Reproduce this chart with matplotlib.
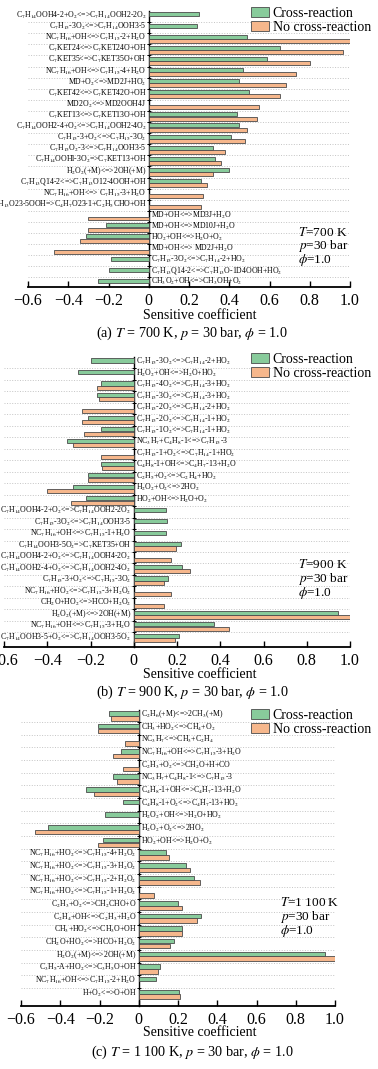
import re
import numpy as np
import matplotlib
matplotlib.use("Agg")
import matplotlib.pyplot as plt
from matplotlib.ticker import FuncFormatter

plt.rcParams['font.family'] = ['Liberation Serif', 'DejaVu Serif']
plt.rcParams['mathtext.fontset'] = 'stix'

nan = np.nan

# --- (a) T = 700 K ---
a_labels = [
    "C_7H_14OOH4-2+O_2<=>C_7H_14OOH2-2O_2", "C_7H_15-3O_2<=>C_7H_14OOH3-5",
    "NC_7H_16+OH<=>C_7H_15-2+H_2O", "C_7KET24<=>C_7KET24O+OH", "C_7KET35<=>C_7KET35O+OH",
    "NC_7H_16+OH<=>C_7H_15-4+H_2O", "MD+O_2<=>MD2J+HO_2", "C_7KET42<=>C_7KET42O+OH",
    "MD2O_2<=>MD2OOH4J", "C_7KET13<=>C_7KET13O+OH", "C_7H_14OOH2-4+O_2<=>C_7H_14OOH2-4O_2",
    "C_7H_15-3+O_2<=>C_7H_15-3O_2", "C_7H_15O_2-3<=>C_7H_14OOH3-5",
    "C_7H_14OOHl-3O_2=>C_7KET13+OH", "H_2O_2(+M)<=>2OH(+M)",
    "C_7H_13Q14-2<=>C_7H_13O12-4OOH+OH", "NC_7H_16+OH<=> C_7H_15-3+H_2O",
    "C_7H_13O23-5OOH=>C_4H_7O23-1+C_2H_5CHO+OH", "MD+OH<=>MD3J+H_2O",
    "MD+OH<=>MD10J+H_2O", "HO_2+OH<=>H_2O+O_2", "MD+OH<=> MD2J+H_2O",
    "C_7H_15-3O_2<=>C_7H_14-2+HO_2", "C_7H_13Q14-2<=>C_7H_13O-1D4OOH+HO_2",
    "CH_3O_2+OH<=>CH_3OH+O_2",
]
a_cross = [0.25, 0.24, 0.49, 0.65, 0.59, 0.47, 0.45, 0.50, nan, 0.44, 0.45, 0.41, 0.32,
           0.33, 0.40, 0.26, nan, nan, nan, -0.21, -0.31, nan, -0.19, -0.20, -0.25]
a_nocross = [nan, nan, 1.00, 0.965, 0.80, 0.73, 0.68, 0.65, 0.55, 0.54, 0.49, 0.48, 0.38,
             0.36, 0.32, 0.29, 0.27, 0.26, -0.30, -0.30, -0.34, -0.47, nan, nan, nan]

# --- (b) T = 900 K ---
b_labels = [
    "C_7H_15-3O_2<=>C_7H_14-2+HO_2", "H_2O_2+OH<=>H_2O+HO_2", "C_7H_15-4O_2<=>C_7H_14-3+HO_2",
    "C_7H_15-3O_2<=>C_7H_14-3+HO_2", "C_7H_15-2O_2<=>C_7H_14-2+HO_2",
    "C_7H_15-2O_2<=>C_7H_14-1+HO_2", "C_7H_15-1O_2<=>C_7H_14-1+HO_2",
    "NC_3H_7+C_4H_8-1<=>C_7H_15-3", "C_7H_15-1+O_2<=>C_7H_14-1+HO_2",
    "C_4H_8-1+OH<=>C_4H_7-13+H_2O", "C_2H_5+O_2<=>C_2H_4+HO_2", "H_2O_2+O_2<=>2HO_2",
    "HO_2+OH<=>H_2O+O_2", "C_7H_14OOH4-2+O_2<=>C_7H_14OOH2-2O_2",
    "C_7H_15-3O_2<=>C_7H_14OOH3-5", "NC_7H_16+OH<=>C_7H_15-1+H_2O",
    "C_7H_14OOH3-5O_2=>C_7KET35+OH", "C_7H_14OOH4-2+O_2<=>C_7H_14OOH4-2O_2",
    "C_7H_14OOH2-4+O_2<=>C_7H_14OOH2-4O_2", "C_7H_15-3+O_2<=>C_7H_15-3O_2",
    "NC_7H_16+HO_2<=>C_7H_15-3+H_2O_2", "CH_2O+HO_2<=>HCO+H_2O_2", "H_2O_2(+M)<=>2OH(+M)",
    "NC_7H_16+OH<=>C_7H_15-3+H_2O", "C_7H_14OOH3-5+O_2<=>C_7H_14OOH3-5O_2",
]
b_cross = [-0.20, -0.26, -0.15, -0.17, nan, -0.21, -0.15, -0.31, nan, -0.15, -0.21, -0.28,
           -0.22, 0.15, 0.155, 0.15, 0.22, nan, 0.225, 0.16, nan, nan, 0.945, 0.37, 0.21]
b_nocross = [nan, nan, -0.17, -0.16, -0.24, -0.24, -0.23, -0.28, -0.15, -0.145, -0.21, -0.40,
             -0.29, nan, nan, nan, 0.195, 0.17, 0.26, 0.14, 0.17, 0.14, 1.00, 0.44, 0.19]

# --- (c) T = 1 100 K ---
c_labels = [
    "C_2H_6(+M)<=>2CH_3(+M)", "CH_3+HO_2<=>CH_4+O_2", "NC_3H_7<=>CH_3+C_2H_4",
    "NC_7H_16+OH<=>C_7H_15-3+H_2O", "C_2H_3+O_2<=>CH_2O+H+CO", "NC_3H_7+C_4H_8-1<=>C_7H_15-3",
    "C_4H_8-1+OH<=>C_4H_7-13+H_2O", "C_4H_8-1+O_2<=>C_4H_7-13+HO_2", "H_2O_2+OH<=>H_2O+HO_2",
    "H_2O_2+O_2<=>2HO_2", "HO_2+OH<=>H_2O+O_2", "NC_7H_16+HO_2<=>C_7H_15-4+H_2O_2",
    "NC_7H_16+HO_2<=>C_7H_15-3+H_2O_2", "NC_7H_16+HO_2<=>C_7H_15-2+H_2O_2",
    "NC_7H_16+HO_2<=>C_7H_15-1+H_2O_2", "C_2H_3+O_2<=>CH_2CHO+O", "C_2H_4+OH<=>C_2H_3+H_2O",
    "CH_3+HO_2<=>CH_3O+OH", "CH_2O+HO_2<=>HCO+H_2O_2", "H_2O_2(+M)<=>2OH(+M)",
    "C_3H_5-A+HO_2<=>C_3H_5O+OH", "NC_7H_16+OH<=>C_7H_15-2+H_2O", "H+O_2<=>O+OH",
]
c_cross = [-0.15, -0.21, nan, -0.09, nan, -0.13, -0.27, -0.08, -0.17, -0.46, -0.18, 0.14,
           0.24, 0.28, nan, 0.20, 0.315, 0.22, 0.18, 0.95, 0.107, 0.087, 0.205]
c_nocross = [-0.14, -0.21, -0.07, -0.13, -0.08, -0.11, -0.23, nan, nan, -0.53, -0.21, 0.155,
             0.26, 0.31, 0.08, 0.22, 0.295, 0.22, 0.16, 1.00, 0.10, nan, 0.21]

GREEN = '#88cb9b'
ORANGE = '#f6b78c'
EDGE = '#4a4a4a'
W, H = 378, 1069


def tex(s):
    return re.sub(r"_(\d+)", r"$_{\1}$", s)


def fx(px):
    return px / W


def fy(py):
    return 1 - py / H


def fmt(v, pos):
    if abs(v) < 1e-9:
        return '0'
    return f'{v:.1f}'.replace('-', '\u2212')


fig = plt.figure(figsize=(W / 100, H / 100), dpi=100)

panels = [
    # data, axes rect (px: left, top, right, bottom), ylim bottom, caption, T, legend y, note x/y, xlabel y, caption y
    ((a_labels, a_cross, a_nocross), (28, 11, 350, 287), 24.36,
     r"(a) $T$ = 700 K, $p$ = 30 bar, $\phi$ = 1.0", "700 K", 7, 298, 232, 316, 333),
    ((b_labels, b_cross, b_nocross), (4, 357, 350, 647), 24.78,
     r"(b) $T$ = 900 K, $p$ = 30 bar, $\phi$ = 1.0", "900 K", 353, 298, 565, 674, 692),
    ((c_labels, c_cross, c_nocross), (21, 709.5, 335, 1006), 22.93,
     r"(c) $T$ = 1 100 K, $p$ = 30 bar, $\phi$ = 1.0", "1 100 K", 709, 280, 903, 1032, 1052),
]

for (labels, cross, nocross), (l, t, r, b), ybot, caption, temp, leg_y, nx, ny, xl_y, cap_y in panels:
    ax = fig.add_axes([fx(l), fy(b), fx(r - l), (b - t) / H])
    n = len(labels)
    y = np.arange(n)
    cross = np.array(cross)
    nocross = np.array(nocross)
    h = 0.36
    m1 = ~np.isnan(cross)
    m2 = ~np.isnan(nocross)
    ax.barh(y[m1] - 0.19, cross[m1], height=h, color=GREEN, edgecolor=EDGE,
            linewidth=0.6, label='Cross-reaction', zorder=3)
    ax.barh(y[m2] + 0.19, nocross[m2], height=h, color=ORANGE, edgecolor=EDGE,
            linewidth=0.6, label='No cross-reaction', zorder=3)
    ax.hlines(np.arange(n - 1) + 0.5, -0.6, 1.0, colors='#c4c4c4', linestyles=':',
              linewidth=0.7, zorder=1)
    ax.set_xlim(-0.6, 1.0)
    ax.set_ylim(ybot, -0.5)

    for i, lab in enumerate(labels):
        vals = np.array([cross[i], nocross[i]])
        if np.nanmax(vals) > 0:
            ax.text(-0.012, i - 0.1, tex(lab), ha='right', va='center', fontsize=5.6, zorder=4)
        else:
            ax.text(0.012, i - 0.1, tex(lab), ha='left', va='center', fontsize=5.6, zorder=4)

    ax.spines['top'].set_visible(False)
    ax.spines['right'].set_visible(False)
    ax.spines['left'].set_position(('data', 0))
    ax.spines['left'].set_linewidth(1.0)
    ax.spines['bottom'].set_linewidth(1.3)
    ax.set_yticks(np.arange(n - 1) + 0.5)
    ax.tick_params(axis='y', direction='inout', length=3, width=0.7, labelleft=False)
    ax.set_xticks(np.arange(-0.6, 1.01, 0.2))
    ax.xaxis.set_major_formatter(FuncFormatter(fmt))
    ax.tick_params(axis='x', direction='in', length=4, width=1.0, labelsize=11.5, pad=4)

    ax.legend(loc='upper left', bbox_to_anchor=(fx(251), fy(leg_y)),
              bbox_transform=fig.transFigure, frameon=False, fontsize=10,
              handlelength=1.3, handleheight=0.75, handletextpad=0.25,
              labelspacing=0.05, borderpad=0, borderaxespad=0)

    fig.text(fx(nx), fy(ny), rf"$T$=" + temp, fontsize=9.5, ha='left', va='center')
    fig.text(fx(nx), fy(ny + 14), r"$p$=30 bar", fontsize=9.5, ha='left', va='center')
    fig.text(fx(nx), fy(ny + 28), r"$\phi$=1.0", fontsize=9.5, ha='left', va='center')

    fig.text(fx(200), fy(xl_y), "Sensitive coefficient", fontsize=10, ha='center', va='center')
    fig.text(fx(192), fy(cap_y), caption, fontsize=10.2, ha='center', va='center')

fig.savefig('out.png', dpi=100)
